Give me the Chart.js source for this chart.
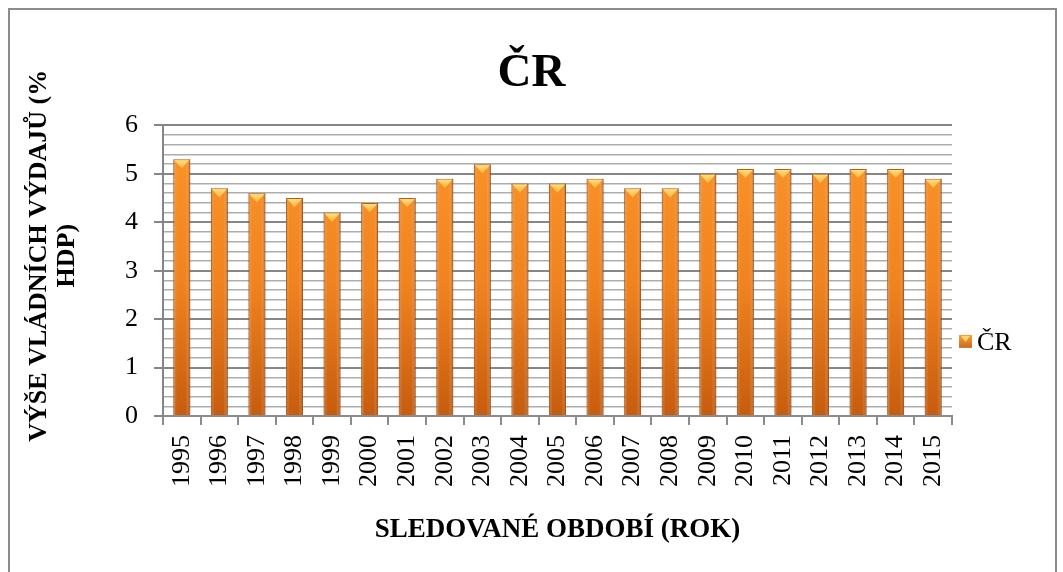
<!DOCTYPE html>
<html>
<head>
<meta charset="utf-8">
<script src="https://cdn.jsdelivr.net/npm/chart.js@4.4.1/dist/chart.umd.min.js"></script>
<style>
  html, body { margin: 0; padding: 0; background: #fff; overflow: hidden; }
  .frame { position: absolute; left: 8px; top: 8px; width: 1045px; height: 600px; border: 2px solid #8c8c8c; }
  .wrap { position: absolute; left: 0; top: 0; width: 1063px; height: 572px; }
</style>
</head>
<body>
<div class="frame"></div>
<div class="wrap"><canvas id="chart" width="1063" height="572"></canvas></div>
<script>
// data
const years = ['1995', '1996', '1997', '1998', '1999', '2000', '2001', '2002', '2003', '2004', '2005',
  '2006', '2007', '2008', '2009', '2010', '2011', '2012', '2013', '2014', '2015'];
const vydaje = [5.3, 4.7, 4.6, 4.5, 4.2, 4.4, 4.5, 4.9, 5.2, 4.8, 4.8,
  4.9, 4.7, 4.7, 5.0, 5.1, 5.1, 5.0, 5.1, 5.1, 4.9];
const yTicks = [0, 1, 2, 3, 4, 5, 6];
const minorPerMajor = 5;

const serif = "'Liberation Serif', 'Times New Roman', serif";

function isMajor(v) {
  return Math.abs(v - Math.round(v)) < 1e-6;
}

// gradient for bars, darker towards the bottom
function barFill(c) {
  const chart = c.chart;
  const area = chart.chartArea;
  if (!area) return '#f28c28';
  const g = chart.ctx.createLinearGradient(0, area.top, 0, area.bottom);
  g.addColorStop(0, '#fc962a');
  g.addColorStop(0.55, '#f0831f');
  g.addColorStop(1, '#c65c0e');
  return g;
}

// title centred on the whole canvas, not just over the plot
const titleCenter = {
  id: 'titleCenter',
  afterLayout(chart) {
    const t = chart.titleBlock;
    t.left = 0;
    t.right = chart.width;
    t.width = chart.width;
  }
};

// y axis title sits a bit higher than the plot centre in the original
const yTitleShift = {
  id: 'yTitleShift',
  afterLayout(chart) {
    const s = chart.scales.y;
    if (s._shifted) return;
    const orig = s.drawTitle.bind(s);
    s.drawTitle = function () {
      chart.ctx.save();
      chart.ctx.translate(0, -15);
      orig();
      chart.ctx.restore();
    };
    s._shifted = true;
  }
};

// yellow cap + side shading on top of each bar
const capPlugin = {
  id: 'caps',
  afterDatasetsDraw(chart) {
    const ctx = chart.ctx;
    chart.getDatasetMeta(0).data.forEach(bar => {
      const w = bar.width, x = bar.x, top = bar.y, bottom = bar.base;
      const sg = ctx.createLinearGradient(x - w / 2, 0, x + w / 2, 0);
      sg.addColorStop(0, 'rgba(150,70,10,0.45)');
      sg.addColorStop(0.2, 'rgba(255,255,255,0.0)');
      sg.addColorStop(0.75, 'rgba(255,255,255,0.0)');
      sg.addColorStop(1, 'rgba(120,50,5,0.55)');
      ctx.save();
      ctx.fillStyle = sg;
      ctx.fillRect(x - w / 2, top, w, bottom - top);
      const cg = ctx.createLinearGradient(0, top, 0, top + w * 0.55);
      cg.addColorStop(0, '#ffe58a');
      cg.addColorStop(1, '#f7b136');
      ctx.fillStyle = cg;
      ctx.beginPath();
      ctx.moveTo(x - w / 2 + 1, top + 1);
      ctx.lineTo(x + w / 2 - 1, top + 1);
      ctx.lineTo(x, top + w * 0.55);
      ctx.closePath();
      ctx.fill();
      ctx.restore();
    });
  }
};

// legend on the right
const legendPlugin = {
  id: 'sideLegend',
  afterDraw(chart) {
    const ctx = chart.ctx;
    const area = chart.chartArea;
    const x = area.right + 7;
    const y = area.top + area.height * 0.745;
    ctx.save();
    const g = ctx.createLinearGradient(x, y - 7, x, y + 7);
    g.addColorStop(0, '#f3a23a');
    g.addColorStop(1, '#c8651a');
    ctx.fillStyle = g;
    ctx.fillRect(x, y - 7, 13, 13);
    ctx.fillStyle = '#ffd36a';
    ctx.beginPath();
    ctx.moveTo(x + 2, y - 6);
    ctx.lineTo(x + 11, y - 6);
    ctx.lineTo(x + 6.5, y);
    ctx.closePath();
    ctx.fill();
    ctx.fillStyle = '#000';
    ctx.font = '26px ' + serif;
    ctx.textBaseline = 'middle';
    ctx.fillText('ČR', x + 18, y + 1);
    ctx.restore();
  }
};

new Chart(document.getElementById('chart'), {
  type: 'bar',
  data: {
    labels: years,
    datasets: [{
      label: 'ČR',
      data: vydaje,
      backgroundColor: barFill,
      borderColor: '#b85a12',
      borderWidth: 1,
      barPercentage: 0.45,
      categoryPercentage: 1
    }]
  },
  options: {
    responsive: false,
    animation: false,
    events: [],
    layout: { padding: { left: 14, right: 111, top: 0, bottom: 0 } },
    plugins: {
      legend: { display: false },
      tooltip: { enabled: false },
      title: {
        display: true,
        text: 'ČR',
        color: '#000',
        font: { family: serif, size: 47, weight: 'bold' },
        padding: { top: 46, bottom: 23 }
      }
    },
    scales: {
      x: {
        offset: true,
        grid: { drawOnChartArea: false, drawTicks: true, tickLength: 9, color: '#8c8c8c', lineWidth: 2, offset: true },
        border: { color: '#8c8c8c', width: 2 },
        ticks: {
          color: '#000',
          font: { family: serif, size: 26 },
          minRotation: 90,
          maxRotation: 90,
          padding: 10,
          autoSkip: false
        },
        title: {
          display: true,
          text: 'SLEDOVANÉ OBDOBÍ (ROK)',
          color: '#000',
          font: { family: serif, size: 27, weight: 'bold' },
          padding: { top: 0, bottom: 26 }
        },
        afterFit(scale) { scale.height = 156; }
      },
      y: {
        min: yTicks[0],
        max: yTicks[yTicks.length - 1],
        afterBuildTicks(scale) {
          // major ticks from yTicks, plus minor lines between them
          const t = [];
          yTicks.forEach((v, i) => {
            t.push({ value: v });
            if (i < yTicks.length - 1) {
              const step = (yTicks[i + 1] - v) / minorPerMajor;
              for (let k = 1; k < minorPerMajor; k++) t.push({ value: v + k * step });
            }
          });
          scale.ticks = t;
        },
        ticks: {
          autoSkip: false,
          color: '#000',
          font: { family: serif, size: 26 },
          padding: 16,
          callback: v => isMajor(v) ? String(Math.round(v)) : ''
        },
        grid: {
          color: c => isMajor(c.tick.value) ? '#868686' : '#adadad',
          lineWidth: c => isMajor(c.tick.value) ? 2 : 1.5,
          tickColor: c => isMajor(c.tick.value) ? '#868686' : 'rgba(0,0,0,0)',
          tickLength: 9
        },
        border: { color: '#868686', width: 2 },
        title: {
          display: true,
          text: ['VÝŠE VLÁDNÍCH VÝDAJŮ (%', 'HDP)'],
          color: '#000',
          font: { family: serif, size: 26, weight: 'bold', lineHeight: 1.05 },
          padding: { top: 12, bottom: 0 }
        },
        afterFit(scale) { scale.width = 149; }
      }
    }
  },
  plugins: [titleCenter, yTitleShift, capPlugin, legendPlugin]
});
</script>
</body>
</html>
